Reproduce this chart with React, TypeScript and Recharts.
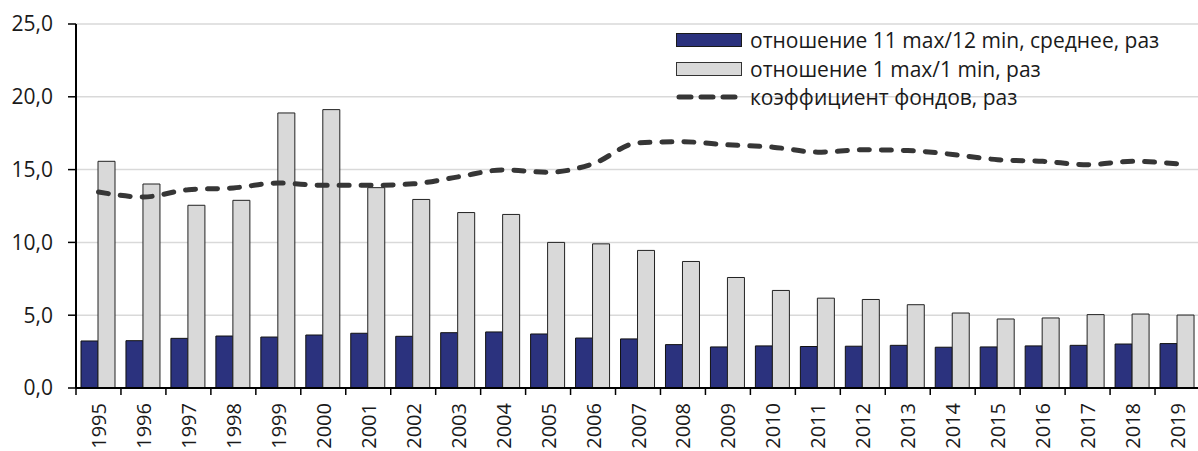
import React from 'react';
import { ComposedChart, Bar, Line, XAxis, YAxis, CartesianGrid, Legend } from 'recharts';

const years = [
  '1995', '1996', '1997', '1998', '1999', '2000', '2001', '2002', '2003', '2004', '2005', '2006', '2007',
  '2008', '2009', '2010', '2011', '2012', '2013', '2014', '2015', '2016', '2017', '2018', '2019',
];
const ratio11to12 = [
  3.23, 3.25, 3.41, 3.57, 3.5, 3.64, 3.76, 3.55, 3.8, 3.85, 3.71, 3.43, 3.37,
  2.98, 2.82, 2.89, 2.85, 2.87, 2.93, 2.8, 2.82, 2.89, 2.93, 3.02, 3.05,
];
const ratio1to1 = [
  15.57, 14.01, 12.55, 12.89, 18.89, 19.12, 13.76, 12.95, 12.05, 11.92, 10.0, 9.9, 9.45,
  8.69, 7.59, 6.7, 6.17, 6.08, 5.72, 5.15, 4.74, 4.81, 5.04, 5.08, 5.01,
];
const fundsCoef = [
  13.46, 13.12, 13.62, 13.74, 14.08, 13.92, 13.92, 14.02, 14.5, 14.98, 14.82, 15.4, 16.84,
  16.91, 16.7, 16.54, 16.2, 16.36, 16.31, 16.04, 15.68, 15.57, 15.34, 15.57, 15.4,
];
const yTicks = [0, 5, 10, 15, 20, 25];

const seriesNames = [
  'отношение 11 max/12 min, среднее, раз',
  'отношение 1 max/1 min, раз',
  'коэффициент фондов, раз',
];

const data = years.map((year, i) => ({
  year,
  r11: ratio11to12[i],
  r1: ratio1to1[i],
  coef: fundsCoef[i],
}));

const FONT = '"Open Sans", "Noto Sans", sans-serif';
const CHART_W = 1200;
const CHART_H = 451;
const Y_AXIS_W = 76;
const BAND = (CHART_W - Y_AXIS_W) / years.length;

const NAVY = '#2b327e';
const LIGHT = '#d9d9d9';
const LINE_COLOR = '#363636';

function fmt(v: number) {
  return v.toFixed(1).replace('.', ',');
}

// year label rotated, tick mark sits on the category boundary
function YearTick(props: any) {
  const { x, y, payload } = props;
  const tx = x + 7.5;
  const ty = y + 15;
  return (
    <g>
      <line x1={x - BAND / 2} x2={x - BAND / 2} y1={y} y2={y + 7} stroke="#000" strokeWidth={1.5} />
      <text
        x={tx}
        y={ty}
        transform={`rotate(-90, ${tx}, ${ty})`}
        textAnchor="end"
        fontSize={20}
        fontFamily={FONT}
        fill="#1a1a1a"
      >
        {payload.value}
      </text>
    </g>
  );
}

function LegendBox(props: any) {
  const payload = [...(props.payload || [])].sort(
    (a: any, b: any) => seriesNames.indexOf(a.value) - seriesNames.indexOf(b.value)
  );
  return (
    <div style={{ fontFamily: FONT, fontSize: 21, color: '#1a1a1a', lineHeight: '28px' }}>
      {payload.map((entry: any, i: number) => (
        <div key={i} style={{ display: 'flex', alignItems: 'center', height: 28.5 }}>
          <svg width={76} height={16} style={{ flex: 'none' }}>
            {entry.type === 'line' ? (
              <line
                x1={5}
                x2={65}
                y1={8}
                y2={8}
                stroke={entry.color}
                strokeWidth={5}
                strokeLinecap="round"
                strokeDasharray="12 10"
              />
            ) : (
              <rect
                x={2.5}
                y={1.5}
                width={65}
                height={13}
                fill={entry.color}
                stroke={i === 0 ? '#1a1a1a' : '#333'}
                strokeWidth={1}
              />
            )}
          </svg>
          <span style={{ whiteSpace: 'nowrap' }}>{entry.value}</span>
        </div>
      ))}
    </div>
  );
}

export default function App() {
  return (
    <div style={{ position: 'absolute', left: 0, top: 0, width: 1198, height: CHART_H, overflow: 'hidden', background: '#fff' }}>
      <ComposedChart
        width={CHART_W}
        height={CHART_H}
        data={data}
        margin={{ top: 24, right: 0, bottom: 0, left: 0 }}
        barGap={0}
        barSize={17}
      >
        <CartesianGrid vertical={false} stroke="#d9d9d9" strokeWidth={1.5} />
        <XAxis
          dataKey="year"
          height={63}
          interval={0}
          tickSize={0}
          tickMargin={0}
          tickLine={false}
          axisLine={{ stroke: '#000', strokeWidth: 2 }}
          tick={<YearTick />}
        />
        <YAxis
          width={Y_AXIS_W}
          domain={[0, 25]}
          ticks={yTicks}
          interval={0}
          tickFormatter={fmt}
          tickSize={8}
          tickMargin={15}
          tickLine={{ stroke: '#000', strokeWidth: 1.5 }}
          axisLine={{ stroke: '#000', strokeWidth: 2 }}
          tick={{ fontSize: 21, fontFamily: FONT, fill: '#1a1a1a' }}
        />
        <Legend
          layout="vertical"
          align="center"
          verticalAlign="middle"
          content={<LegendBox />}
          wrapperStyle={{ top: 26, left: 674, width: 524, height: 90 }}
        />
        <Bar dataKey="r11" name={seriesNames[0]} fill={NAVY} stroke="#111" strokeWidth={1} legendType="rect" isAnimationActive={false} />
        <Bar dataKey="r1" name={seriesNames[1]} fill={LIGHT} stroke="#222" strokeWidth={1} legendType="rect" isAnimationActive={false} />
        <Line
          dataKey="coef"
          name={seriesNames[2]}
          type="monotone"
          stroke={LINE_COLOR}
          strokeWidth={5}
          strokeLinecap="round"
          strokeDasharray="10 12"
          dot={false}
          activeDot={false}
          legendType="line"
          isAnimationActive={false}
        />
      </ComposedChart>
    </div>
  );
}
